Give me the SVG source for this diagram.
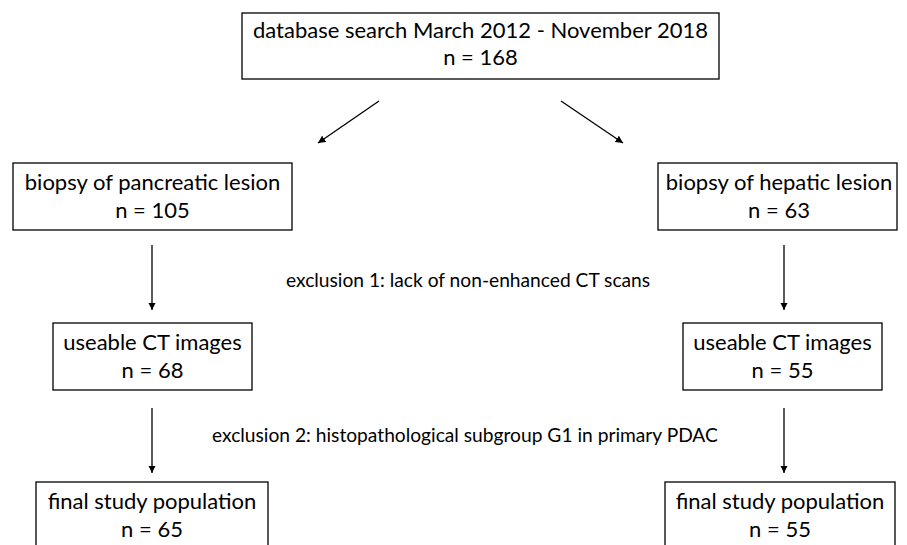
<svg xmlns="http://www.w3.org/2000/svg" width="907" height="545" viewBox="0 0 907 545">
  <style>
    .box { fill: #ffffff; stroke: #000000; stroke-width: 1.3; }
    .lbl { font-family: Lato, "Open Sans", "Liberation Sans", sans-serif; font-size: 22px; fill: #000000; text-anchor: middle; }
    .note { font-family: Lato, "Open Sans", "Liberation Sans", sans-serif; font-size: 19.2px; fill: #000000; }
    .edge { stroke: #000000; stroke-width: 1.3; fill: none; marker-end: url(#head); }
  </style>
  <defs>
    <marker id="head" viewBox="0 0 10 10" refX="10" refY="5" markerWidth="7.5" markerHeight="7.5" markerUnits="userSpaceOnUse" orient="auto">
      <path d="M0,0 L10,5 L0,10 Z" fill="#000000"/>
    </marker>
  </defs>
  <rect width="907" height="545" fill="#ffffff"/>

  <!-- arrows between the stages -->
  <g id="connectors">
    <line class="edge" x1="379" y1="101" x2="318" y2="143"/>
    <line class="edge" x1="561" y1="101" x2="623" y2="143"/>
    <line class="edge" x1="152" y1="245" x2="152" y2="310"/>
    <line class="edge" x1="784" y1="245" x2="784" y2="310"/>
    <line class="edge" x1="152" y1="408" x2="152" y2="473"/>
    <line class="edge" x1="784" y1="408" x2="784" y2="473"/>
  </g>

  <g id="search">
    <rect class="box" x="242" y="13" width="477" height="66"/>
    <text class="lbl" x="480.5" y="38">database search March 2012 - November 2018</text>
    <text class="lbl" x="480.5" y="65">n = 168</text>
  </g>

  <g id="pancreatic">
    <rect class="box" x="13" y="163" width="279" height="67"/>
    <text class="lbl" x="152.5" y="190">biopsy of pancreatic lesion</text>
    <text class="lbl" x="152.5" y="218">n = 105</text>
  </g>

  <g id="hepatic">
    <rect class="box" x="658" y="163" width="239" height="67"/>
    <text class="lbl" x="779" y="190">biopsy of hepatic lesion</text>
    <text class="lbl" x="779" y="218">n = 63</text>
  </g>

  <g id="exclusion1">
    <text class="note" x="286" y="287">exclusion 1: lack of non-enhanced CT scans</text>
  </g>

  <g id="ct-left">
    <rect class="box" x="53" y="323" width="199" height="67"/>
    <text class="lbl" x="152.5" y="350">useable CT images</text>
    <text class="lbl" x="152.5" y="378">n = 68</text>
  </g>

  <g id="ct-right">
    <rect class="box" x="683" y="323" width="199" height="67"/>
    <text class="lbl" x="782.5" y="350">useable CT images</text>
    <text class="lbl" x="782.5" y="378">n = 55</text>
  </g>

  <g id="exclusion2">
    <text class="note" x="212" y="442">exclusion 2: histopathological subgroup G1 in primary PDAC</text>
  </g>

  <g id="final-left">
    <rect class="box" x="36" y="482" width="232" height="80"/>
    <text class="lbl" x="152" y="509">final study population</text>
    <text class="lbl" x="152" y="537">n = 65</text>
  </g>

  <g id="final-right">
    <rect class="box" x="665" y="482" width="230" height="80"/>
    <text class="lbl" x="780" y="509">final study population</text>
    <text class="lbl" x="780" y="537">n = 55</text>
  </g>
</svg>
